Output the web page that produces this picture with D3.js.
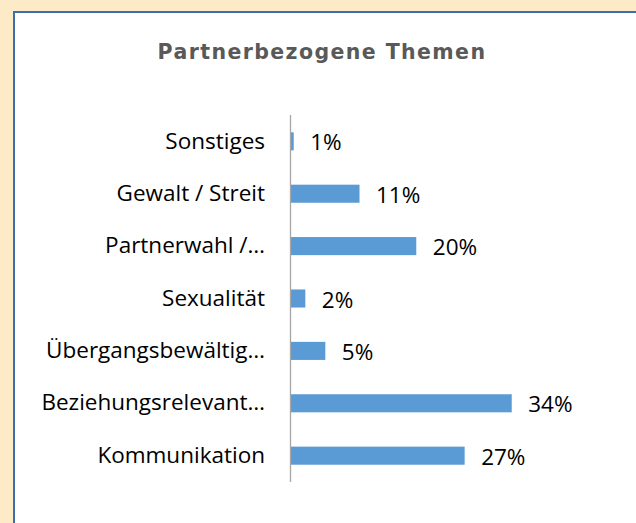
<!DOCTYPE html>
<html>
<head>
<meta charset="utf-8">
<script src="https://cdn.jsdelivr.net/npm/d3@7"></script>
<style>
  html, body { margin: 0; padding: 0; background: #fdebc8; }
  svg { display: block; }
</style>
</head>
<body>
<div id="chart"></div>
<script>
const categories = ['Sonstiges', 'Gewalt / Streit', 'Partnerwahl /…', 'Sexualität',
  'Übergangsbewältig…', 'Beziehungsrelevant…', 'Kommunikation']
// shares in percent; labels show them rounded
const values = [0.5, 10.7, 19.5, 2.3, 5.4, 34.3, 27.0]
const title = 'Partnerbezogene Themen'

const width = 636, height = 523

let svg = d3.select('#chart').append('svg')
  .attr('width', width)
  .attr('height', height)

// orange page background, white chart panel with blue frame
svg.append('rect')
  .attr('width', width).attr('height', height)
  .attr('fill', '#fdebc8')
svg.append('rect')
  .attr('x', 14).attr('y', 12)
  .attr('width', width).attr('height', height)
  .attr('fill', '#fff')
  .attr('stroke', '#3a6fb0')
  .attr('stroke-width', 2)

svg.append('text')
  .attr('x', 322).attr('y', 59)
  .attr('text-anchor', 'middle')
  .attr('font-family', 'DejaVu Sans')
  .attr('font-weight', 'bold')
  .attr('font-size', 20.5)
  .attr('letter-spacing', 1.4)
  .attr('fill', '#595959')
  .text(title)

let x = d3.scaleLinear()
  .domain([0, 50])
  .range([290, 290 + 322.5])

let y = d3.scaleBand()
  .domain(categories)
  .range([115, 482])
  .paddingInner(0.655)
  .paddingOuter(0.33)

svg.append('g')
  .selectAll('rect')
  .data(values)
  .enter().append('rect')
  .attr('x', x(0) + 0.5)
  .attr('y', (d, i) => y(categories[i]))
  .attr('width', (d) => x(d) - x(0))
  .attr('height', y.bandwidth())
  .attr('fill', '#5b9bd5')

let axis = svg.append('g')
  .attr('transform', `translate(${x(0)},0)`)
  .call(d3.axisLeft(y).tickSize(0).tickPadding(25).tickSizeOuter(0))
axis.select('.domain')
  .attr('stroke', '#a6a6a6')
  .attr('stroke-width', 1.3)
  .attr('d', 'M0.5,115V482')
axis.selectAll('text')
  .attr('font-family', 'Open Sans')
  .attr('font-size', 22.5)
  .attr('fill', '#000')

svg.append('g')
  .selectAll('text')
  .data(values)
  .enter().append('text')
  .attr('x', (d) => x(d) + 17)
  .attr('y', (d, i) => y(categories[i]) + y.bandwidth() / 2 + 9)
  .attr('font-family', 'Open Sans')
  .attr('font-size', 22.5)
  .attr('fill', '#000')
  .text((d) => Math.max(1, Math.round(d)) + '%')
</script>
</body>
</html>
